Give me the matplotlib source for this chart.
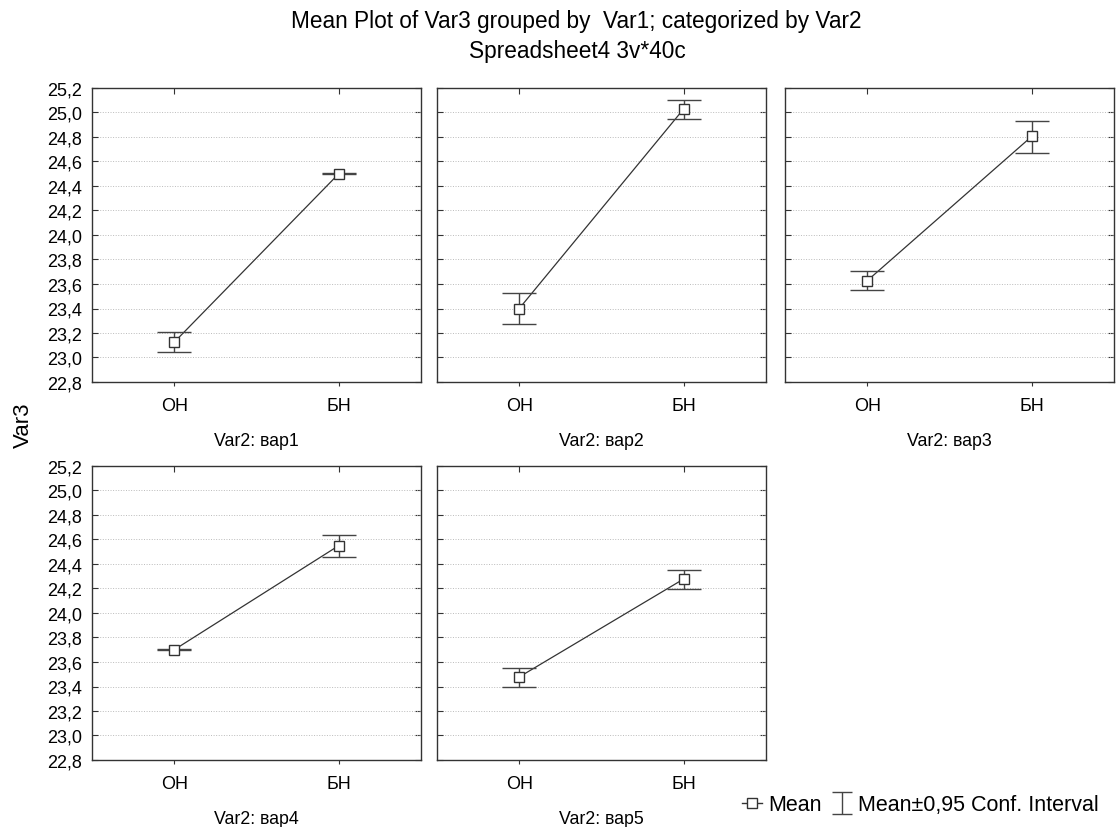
import matplotlib
matplotlib.use("Agg")
import matplotlib.pyplot as plt
import numpy as np
from matplotlib.lines import Line2D

plt.rcParams['font.family'] = ['Liberation Sans', 'DejaVu Sans']

categories = ["ОН", "БН"]
panel_titles = ["Var2: вар1", "Var2: вар2", "Var2: вар3", "Var2: вар4", "Var2: вар5"]
means = [
    [23.125, 24.50],
    [23.40, 25.03],
    [23.627, 24.805],
    [23.70, 24.55],
    [23.478, 24.278],
]
ci_low = [
    [23.045, 24.495],
    [23.27, 24.946],
    [23.548, 24.67],
    [23.695, 24.46],
    [23.397, 24.195],
]
ci_high = [
    [23.205, 24.505],
    [23.53, 25.106],
    [23.703, 24.93],
    [23.705, 24.64],
    [23.555, 24.354],
]
yticks = [22.8, 23.0, 23.2, 23.4, 23.6, 23.8, 24.0, 24.2, 24.4, 24.6, 24.8, 25.0, 25.2]

W, H = 1116, 828
fig = plt.figure(figsize=(W / 100, H / 100), dpi=100)

lefts = [92, 437, 785, 92, 437]
tops = [89, 89, 89, 467, 467]
pw, ph = 329, 294

line_col = '#333333'
err_col = '#444444'
x = np.arange(len(categories))
axes = []
for i in range(5):
    ax = fig.add_axes([lefts[i] / W, 1 - (tops[i] + ph) / H, pw / W, ph / H])
    axes.append(ax)
    m = np.array(means[i]); lo = np.array(ci_low[i]); hi = np.array(ci_high[i])
    ax.plot(x, m, color=line_col, lw=0.9, zorder=3)
    ax.errorbar(x, m, yerr=[m - lo, hi - m], fmt='none', ecolor=err_col,
                elinewidth=1.0, capsize=12, capthick=1.0, zorder=4)
    ax.plot(x, m, 's', ms=7, mfc='white', mec=line_col, mew=1.0, zorder=5)
    ax.set_xlim(-0.5, 1.5)
    ax.set_ylim(22.8, 25.2)
    ax.set_xticks(x)
    ax.set_xticklabels(categories)
    ax.set_yticks(yticks)
    if i in (0, 3):
        ax.set_yticklabels([f"{v:.1f}".replace('.', ',') for v in yticks])
    else:
        ax.set_yticklabels([])
    ax.yaxis.grid(True, linestyle=':', color='#bbbbbb', lw=0.7)
    ax.set_axisbelow(True)
    ax.tick_params(axis='both', labelsize=13, length=3, color='#333333')
    ax.tick_params(axis='x', direction='out', pad=8)
    ax.tick_params(axis='y', direction='in', length=4, pad=7)
    sx = ax.secondary_xaxis('top')
    sx.set_xticks(x)
    sx.tick_params(direction='in', length=4, labeltop=False, color='#333333')
    sy = ax.secondary_yaxis('right')
    sy.set_yticks(yticks)
    sy.tick_params(direction='in', length=4, labelright=False, color='#333333')
    for s in list(sx.spines.values()) + list(sy.spines.values()):
        s.set_visible(False)
    for s in ax.spines.values():
        s.set_color('#333333')
        s.set_linewidth(1.0)
    ax.set_xlabel(panel_titles[i], fontsize=12.8, labelpad=13)

fig.text(576 / W, 1 - 28 / H, "Mean Plot of Var3 grouped by  Var1; categorized by Var2",
         ha='center', va='baseline', fontsize=16.3)
fig.text(577 / W, 1 - 58 / H, "Spreadsheet4 3v*40c", ha='center', va='baseline', fontsize=16.3)
fig.text(23 / W, 1 - 425 / H, "Var3", rotation=90, ha='center', va='center', fontsize=16)

mean_handle = Line2D([], [], marker='s', ms=7, mfc='white', mec=line_col, color=line_col, lw=1.0)
eb_handle = axes[-1].errorbar([np.nan], [np.nan], yerr=[[0.1], [0.1]], fmt='none', ecolor=err_col,
                              elinewidth=1.0, capsize=7, capthick=1.0)
fig.legend([mean_handle, eb_handle], ["Mean", "Mean±0,95 Conf. Interval"],
           loc='center right', bbox_to_anchor=(1099 / W, 1 - 806 / H), ncol=2, frameon=False,
           fontsize=15.5, handlelength=0.9, handletextpad=0.3, columnspacing=0.5,
           borderpad=0, borderaxespad=0)

fig.savefig("out.png", dpi=100)
